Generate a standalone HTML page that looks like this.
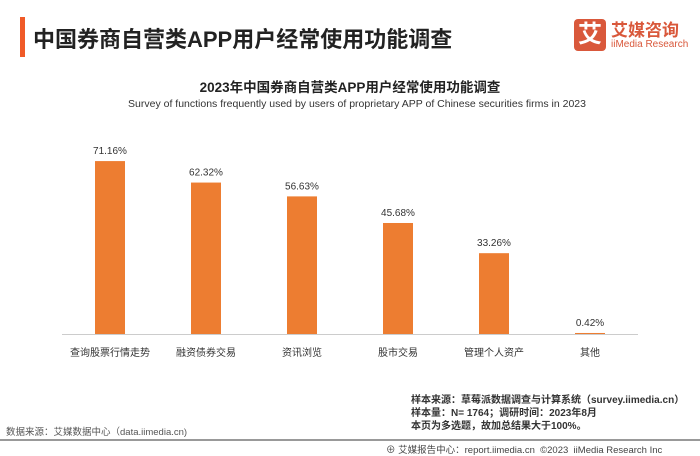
<!DOCTYPE html>
<html><head><meta charset="utf-8"><style>
body{margin:0;width:700px;height:455px;background:#fff;font-family:"Liberation Sans","Noto Sans CJK SC",sans-serif;position:relative;overflow:hidden}
.a{position:absolute;white-space:nowrap}
</style></head><body>
<div class="a" style="left:20px;top:17px;width:5px;height:40px;background:#f05a28"></div>
<div class="a" style="left:33px;top:22px;font-size:22px;font-weight:bold;color:#222">中国券商自营类APP用户经常使用功能调查</div>
<div class="a" style="left:574px;top:19px;width:32px;height:32px;background:#d9583b;border-radius:4px;color:#fff;font-size:24px;font-weight:bold;text-align:center;line-height:32px">艾</div>
<div class="a" style="left:611px;top:16px;font-size:17px;font-weight:bold;color:#d9583b">艾媒咨询</div>
<div class="a" style="left:611px;top:39px;font-size:10px;color:#d9583b">iiMedia Research</div>
<div class="a" style="left:0;width:700px;text-align:center;top:76px;font-size:13.5px;font-weight:bold;color:#222">2023年中国券商自营类APP用户经常使用功能调查</div>
<div class="a" style="left:0;width:714px;text-align:center;top:98px;font-size:10.5px;color:#333">Survey of functions frequently used by users of proprietary APP of Chinese securities firms in 2023</div>
<svg class="a" style="left:0;top:0" width="700" height="455" id="chart"></svg>
<div class="a" style="left:411px;top:394px;font-size:10px;font-weight:bold;color:#333;line-height:13px">样本来源：草莓派数据调查与计算系统（survey.iimedia.cn）<br>样本量：N= 1764；调研时间：2023年8月<br>本页为多选题，故加总结果大于100%。</div>
<div class="a" style="left:6px;top:424px;font-size:9.5px;color:#555">数据来源：艾媒数据中心（data.iimedia.cn)</div>
<div class="a" style="left:0;top:439px;width:700px;height:2px;background:#999"></div>
<div class="a" style="left:386px;top:442px;font-size:9.5px;color:#444">⊕ 艾媒报告中心：report.iimedia.cn &nbsp;©2023 &nbsp;iiMedia Research Inc</div>
<script>
const categories=["查询股票行情走势","融资债券交易","资讯浏览","股市交易","管理个人资产","其他"];
const values=[71.16,62.32,56.63,45.68,33.26,0.42];
const labels=["71.16%","62.32%","56.63%","45.68%","33.26%","0.42%"];
const svg=document.getElementById('chart');const NS='http://www.w3.org/2000/svg';
const x0=62,step=96,base=334,k=2.43,bw=30;
const xc=i=>x0+step*(i+0.5);const y=v=>base-v*k;
function mk(t,a){const e=document.createElementNS(NS,t);for(const n in a)e.setAttribute(n,a[n]);svg.appendChild(e);return e;}
const ax=mk('line',{x1:x0,x2:x0+step*6,y1:base+0.5,y2:base+0.5,stroke:'#ccc'});


categories.forEach((c,i)=>{
const r=mk('rect',{x:xc(i)-bw/2,y:y(values[i]),width:bw,height:Math.max(values[i]*k,1),fill:'#ed7d31'});


const t=mk('text',{x:xc(i),y:y(values[i])-7,'text-anchor':'middle','font-size':'10',fill:'#333'});t.textContent=labels[i];


const l=mk('text',{x:xc(i),y:356,'text-anchor':'middle','font-size':'10',fill:'#333'});l.textContent=c;


});
</script>
</body></html>
